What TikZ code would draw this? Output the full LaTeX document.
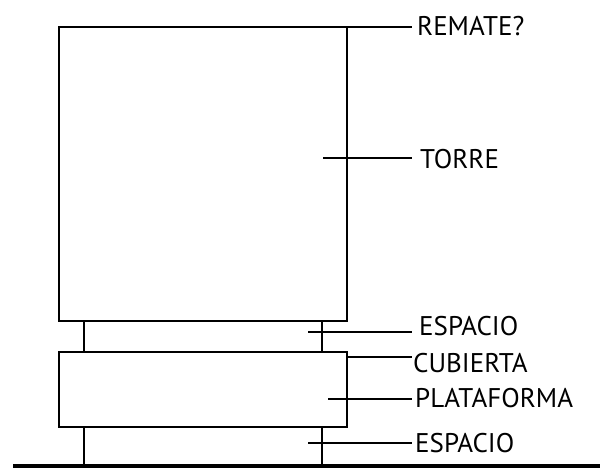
\documentclass[tikz,border=0pt]{standalone}
\usepackage{fontspec}
\setmainfont{PT Sans}
\begin{document}
\begin{tikzpicture}[x=1pt,y=-1pt,
  struct/.style={line width=2pt, line cap=rect},
  lbl/.style={anchor=west, inner sep=0pt, font=\fontsize{27}{27}\selectfont},
  lead/.style={line width=2pt}]
\useasboundingbox (0,0) rectangle (600,468);
% tower
\draw[struct] (59,27) rectangle (347,321);
% posts upper
\draw[struct] (84,321) -- (84,352);
\draw[struct] (322,321) -- (322,352);
% platform
\draw[struct] (59,352) rectangle (347,427);
% posts lower
\draw[struct] (84,427) -- (84,465);
\draw[struct] (322,427) -- (322,465);
% ground
\draw[line width=4pt] (13,466) -- (600,466);
% labels
\node[lbl] (remate) at (417,26) {REMATE?};
\node[lbl] (torre) at (420,159) {TORRE};
\node[lbl] (esp1) at (419,326) {ESPACIO};
\node[lbl] (cub) at (413,363) {CUBIERTA};
\node[lbl] (plat) at (415,398) {PLATAFORMA};
\node[lbl] (esp2) at (415,443) {ESPACIO};
% leader lines
\coordinate (a1) at (347,27);
\coordinate (a2) at (323,158);
\coordinate (a3) at (308,332);
\coordinate (a4) at (347,357);
\coordinate (a5) at (328,399);
\coordinate (a6) at (308,443);
\draw[lead] (a1) -- (412,27);
\draw[lead] (a2) -- (412,158);
\draw[lead] (a3) -- (412,332);
\draw[lead] (a4) -- (412,357);
\draw[lead] (a5) -- (412,399);
\draw[lead] (a6) -- (412,443);
\end{tikzpicture}
\end{document}
